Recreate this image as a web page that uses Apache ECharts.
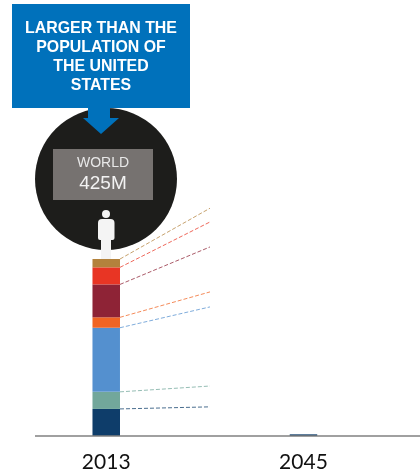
<!DOCTYPE html>
<html>
<head>
<meta charset="utf-8">
<script src="https://cdn.jsdelivr.net/npm/echarts@6/dist/echarts.min.js"></script>
<style>html,body{margin:0;padding:0;background:#fff}#c{width:420px;height:474px}</style>
</head>
<body>
<div id="c"></div>
<script>
const years = ['2013', '2045'];
const segmentNames = ['Navy', 'Teal', 'Blue', 'Orange', 'Maroon', 'Red', 'Tan'];
const values2013 = [65, 41, 154, 25, 79, 41, 20];
const values2045 = [4, 0, 0, 0, 0, 0, 0];
const connectorEnds = [70, 120, 310, 346, 454, 514, 547];
const connectorX = [15, 105];
const colors = ['#0e3d6a', '#72a79b', '#5490cf', '#f06423', '#8e2336', '#e83524', '#b3823c'];
const calloutLines = ['LARGER THAN THE', 'POPULATION OF', 'THE UNITED', 'STATES'];
const badgeLabel = 'WORLD';
const badgeValue = '425M';

let cum = 0;
const barSeries = segmentNames.map((n, i) => ({
  name: n, type: 'bar', stack: 'total', barWidth: 27.5, silent: true,
  xAxisIndex: 0, yAxisIndex: 0,
  itemStyle: { color: colors[i] },
  data: [values2013[i], values2045[i]]
}));
const lineSeries = segmentNames.map((n, i) => {
  cum += values2013[i];
  return {
    name: n + ' link', type: 'line', symbol: 'none', silent: true,
    xAxisIndex: 1, yAxisIndex: 1,
    lineStyle: { color: colors[i], width: 1, type: [4, 2], opacity: 0.75 },
    data: [[connectorX[0], cum], [connectorX[1], connectorEnds[i]]]
  };
});

const txt = (x, y, text, font, fill) => ({
  type: 'text', x, y, z: 30,
  style: { text, font, fill, align: 'center', verticalAlign: 'middle' }
});

const chart = echarts.init(document.getElementById('c'), null, { renderer: 'canvas' });
chart.setOption({
  animation: false,
  grid: [
    { left: 7.6, right: 17.9, top: 0, bottom: 38 },
    { left: 105, right: 0, top: 0, bottom: 38 }
  ],
  xAxis: [
    {
      type: 'category', gridIndex: 0, data: years,
      axisLine: { show: false }, axisTick: { show: false },
      axisLabel: { margin: 16, color: '#111', fontFamily: 'Lato', fontSize: 21 }
    },
    {
      type: 'value', gridIndex: 1, min: 0, max: 315, show: false
    }
  ],
  yAxis: [
    { type: 'value', gridIndex: 0, min: 0, max: 1047, show: false },
    { type: 'value', gridIndex: 1, min: 0, max: 1047, show: false }
  ],
  series: [...barSeries, ...lineSeries],
  graphic: [
    { type: 'line', z: 5, shape: { x1: 35, y1: 436, x2: 420, y2: 436 }, style: { stroke: '#808080', lineWidth: 1.5 } },
    { type: 'circle', z: 10, shape: { cx: 106, cy: 179, r: 71 }, style: { fill: '#1d1d1b' } },
    { type: 'rect', z: 11, shape: { x: 53, y: 149, width: 100, height: 51 }, style: { fill: '#767270' } },
    txt(103, 163.5, badgeLabel, '14px "Liberation Sans"', '#e8e8e8'),
    txt(103, 183.5, badgeValue, '19px "Liberation Sans"', '#f2f2f2'),
    { type: 'circle', z: 12, shape: { cx: 106, cy: 214, r: 4 }, style: { fill: '#f4f4f4' } },
    { type: 'rect', z: 12, shape: { x: 98, y: 219, width: 16.5, height: 21, r: [4, 4, 2, 2] }, style: { fill: '#f4f4f4' } },
    { type: 'rect', z: 12, shape: { x: 101, y: 238, width: 10, height: 21 }, style: { fill: '#f4f4f4' } },
    { type: 'rect', z: 20, shape: { x: 12, y: 4, width: 178, height: 104 }, style: { fill: '#0071bb' } },
    { type: 'polygon', z: 20, shape: { points: [[88, 108], [110, 108], [110, 118], [119, 118], [101, 134], [83, 118], [88, 118]] }, style: { fill: '#0071bb' } },
    ...calloutLines.map((t, i) => txt(101, 28.5 + i * 19, t, 'bold 15.9px "Liberation Sans"', '#ffffff'))
  ]
});
</script>
</body>
</html>
